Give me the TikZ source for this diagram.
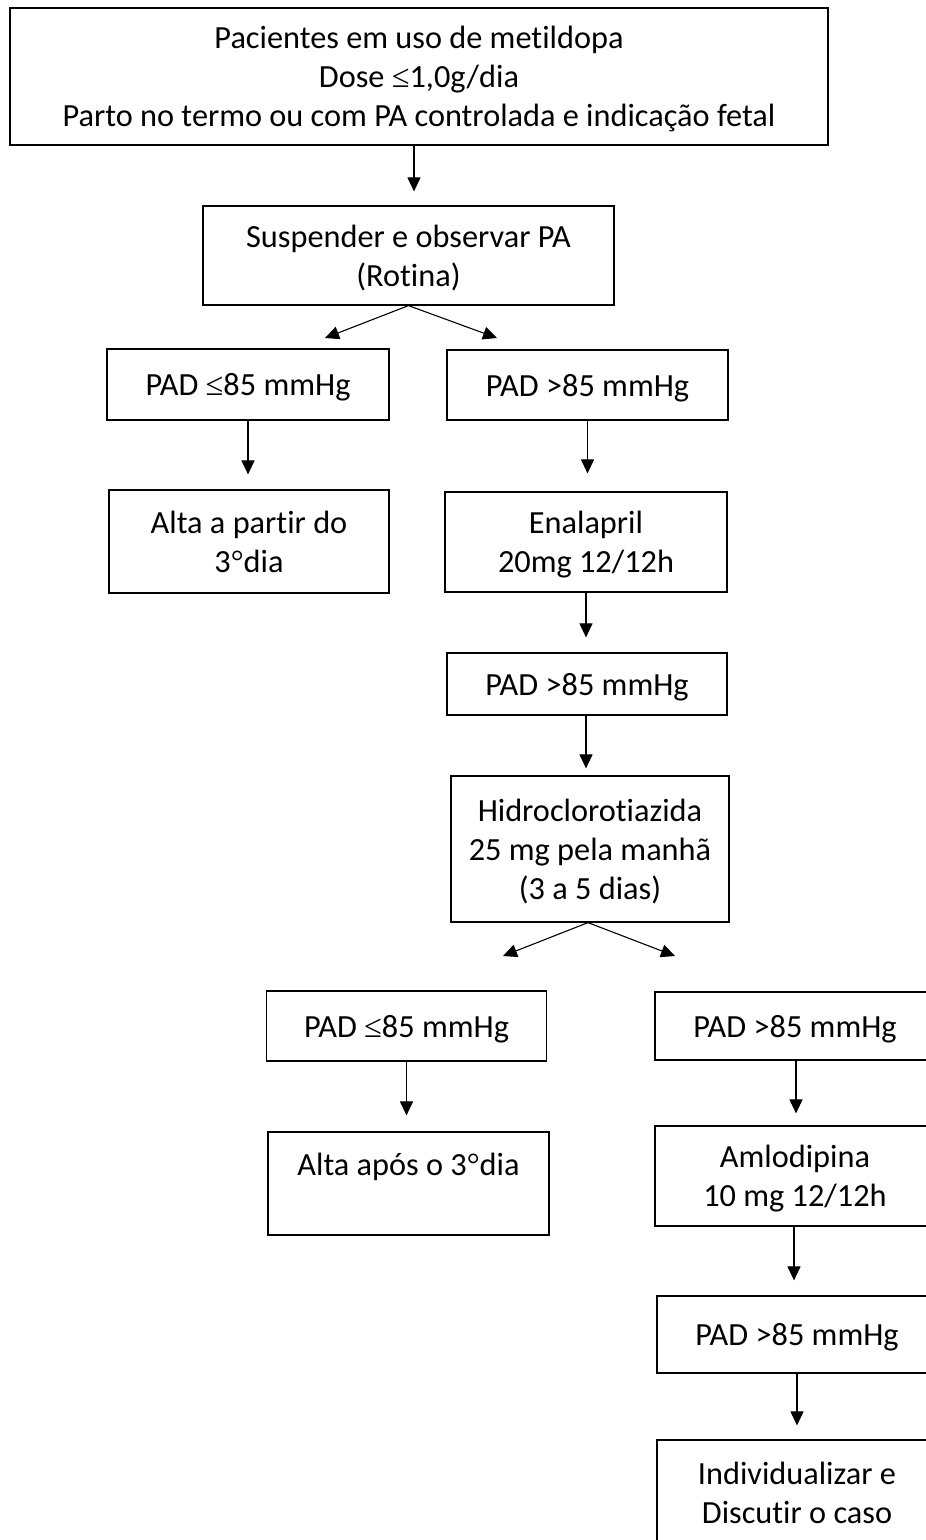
\documentclass[tikz,border=0pt]{standalone}
\usepackage{fontspec}
\setmainfont{Carlito}[Ligatures={NoCommon}]
\newfontfamily\symf{Liberation Serif}
\newcommand{\mle}{{\symf ≤}}
\newcommand{\mdeg}{{\symf °}}
\newcommand{\tl}[1]{\raisebox{-3.5pt}[\height][\depth]{\begin{tabular}{@{}c@{}}#1\end{tabular}}}
\usetikzlibrary{arrows.meta}
\begin{document}
\begin{tikzpicture}[x=1pt,y=-1pt,
  box/.style={draw=black, line width=1.2pt, align=center, inner sep=0pt,
    font=\fontsize{32.3}{39}\selectfont},
  arr/.style={draw=black, line width=1.1pt, -{Triangle[length=14pt,width=13pt]}},
]
\useasboundingbox (0,0) rectangle (926,1540);
\clip (0,0) rectangle (926,1540);

\node[box, minimum width=818pt, minimum height=137pt] (top) at (419,76.5)
  {\tl{Pacientes em uso de metildopa\\Dose \mle1,0g/dia\\Parto no termo ou com PA controlada e indicação fetal}};
\node[box, minimum width=411pt, minimum height=99pt] (susp) at (408.5,255.5)
  {\tl{Suspender e observar PA\\(Rotina)}};
\node[box, minimum width=282pt, minimum height=71pt] (padA) at (248,384.5)
  {\tl{PAD \mle85 mmHg}};
\node[box, minimum width=281pt, minimum height=70pt] (padB) at (587.5,385)
  {\tl{PAD >85 mmHg}};
\node[box, minimum width=280pt, minimum height=103pt] (alta1) at (249,541.5)
  {\tl{Alta a partir do\\3\mdeg dia}};
\node[box, minimum width=282pt, minimum height=100pt] (enal) at (586,542)
  {\tl{Enalapril\\20mg 12/12h}};
\node[box, minimum width=280pt, minimum height=62pt] (padC) at (587,684)
  {\tl{PAD >85 mmHg}};
\node[box, minimum width=278pt, minimum height=146pt] (hidro) at (590,849)
  {\tl{Hidroclorotiazida\\25 mg pela manhã\\(3 a 5 dias)}};
\node[box, minimum width=280pt, minimum height=70pt] (padD) at (406.5,1026)
  {\tl{PAD \mle85 mmHg}};
\node[box, minimum width=280pt, minimum height=68pt] (padE) at (795,1026)
  {\tl{PAD >85 mmHg}};
\node[box, minimum width=281pt, minimum height=103pt] (alta2) at (408.5,1183.5)
  {\tl{Alta após o 3\mdeg dia\\\mbox{}}};
\node[box, minimum width=280pt, minimum height=100pt] (amlo) at (795,1176)
  {\tl{Amlodipina\\10 mg 12/12h}};
\node[box, minimum width=280pt, minimum height=77pt] (padF) at (797,1334.5)
  {\tl{PAD >85 mmHg}};
\node[box, minimum width=280pt, minimum height=105pt] (indiv) at (797,1492.5)
  {\tl{Individualizar e\\Discutir o caso}};

\coordinate (t1) at (325,338);
\coordinate (t2) at (497,338);
\coordinate (t3) at (503,956);
\coordinate (t4) at (675,956);

\draw[arr, shorten >=14pt] ([xshift=-5pt]top.south) -- ([xshift=-5pt]top.south |- susp.north);
\draw[arr] (susp.south) -- (t1);
\draw[arr] (susp.south) -- (t2);
\draw[arr, shorten >=15pt] (padA.south) -- (padA.south |- alta1.north);
\draw[arr, shorten >=18pt] (padB.south) -- (padB.south |- enal.north);
\draw[arr, shorten >=15pt] (enal.south) -- (enal.south |- padC.north);
\draw[arr, shorten >=7pt] ([xshift=-1pt]padC.south) -- ([xshift=-1pt]padC.south |- hidro.north);
\draw[arr] ([xshift=-2pt]hidro.south) -- (t3);
\draw[arr] ([xshift=-2pt]hidro.south) -- (t4);
\draw[arr, shorten >=16pt] (padD.south) -- (padD.south |- alta2.north);
\draw[arr, shorten >=12pt] ([xshift=1pt]padE.south) -- ([xshift=1pt]padE.south |- amlo.north);
\draw[arr, shorten >=15pt] ([xshift=-1pt]amlo.south) -- ([xshift=-1pt]amlo.south |- padF.north);
\draw[arr, shorten >=14pt] (padF.south) -- (padF.south |- indiv.north);
\end{tikzpicture}
\end{document}
